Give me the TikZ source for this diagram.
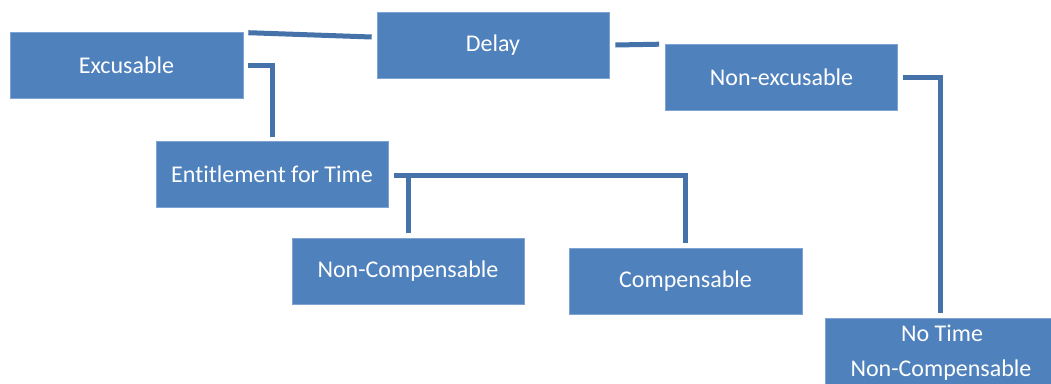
\documentclass[tikz,border=0pt]{standalone}
\usepackage{fontspec}
\setmainfont{Carlito}[Ligatures=NoCommon]
\usetikzlibrary{calc}
\definecolor{boxfill}{HTML}{4F81BD}
\definecolor{boxedge}{HTML}{7FA3D3}
\definecolor{linkcol}{HTML}{4572A8}
\begin{document}
\begin{tikzpicture}[x=1pt,y=-1pt,
  box/.style={draw=boxedge,line width=0.6pt,fill=boxfill,minimum width=232pt,minimum height=66pt,inner sep=0pt,text=white,font=\fontsize{24}{37}\selectfont,align=center},
  lbl/.style={text=white,font=\fontsize{24}{37}\selectfont,inner sep=0pt},
  link/.style={draw=linkcol,line width=5pt,line cap=butt,line join=miter}]
\useasboundingbox (0,0) rectangle (1051,383);
\clip (0,0) rectangle (1051,383);
\node[box,minimum width=233pt] (exc) at (126.5,65) {Excusable};
\node[box] (delay) at (493,45) {Delay};
\node[box] (nonexc) at (781.5,77.5) {Non-excusable};
\node[box] (ent) at (272,174) {Entitlement for Time};
\node[box] (noncomp) at (408,271.5) {Non-Compensable};
\node[box,minimum width=233pt] (comp) at (685.5,281.5) {Compensable};
\node[box] (notime) at (941,351) {};
\node[lbl] (notimeA) at (942,333) {No Time};
\node[lbl] (notimeB) at (941,370) {Non-Compensable};
\draw[link] ($(exc.north east)+(5,1)$) -- ($(delay.west)+(-5,-8)$);
\draw[link] ($(delay.east)+(6,0)$) -- ($(nonexc.north west)+(-6,0)$);
\draw[link] ($(exc.east)+(5,0)$) -| ($(ent.north)+(0,-4)$);
\draw[link] ($(ent.east)+(6,1)$) -| ($(comp.north)+(0,-5)$);
\draw[link] ($(noncomp.north)+(0,-5)$) -- ($(noncomp.north |- ent.east)+(0,-1.5)$);
\draw[link] ($(nonexc.east)+(5,0)$) -| ($(notime.north)+(-1,-5)$);
\end{tikzpicture}
\end{document}
